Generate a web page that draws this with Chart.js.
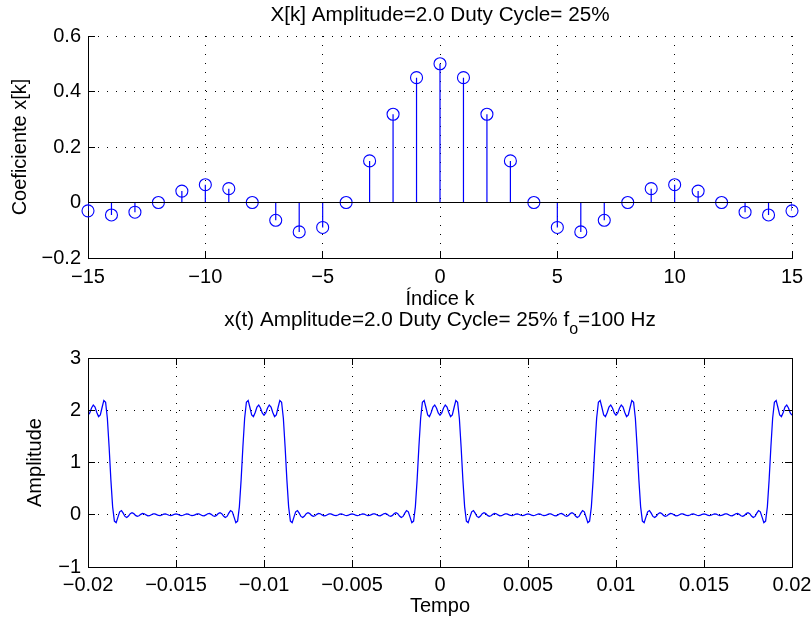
<!DOCTYPE html>
<html lang="pt">
<head>
<meta charset="UTF-8">
<title>Serie de Fourier - trem de pulsos</title>
<script src="https://cdn.jsdelivr.net/npm/chart.js"></script>
<style>
  body { margin: 0; background: #fff; }
  #wrap { position: relative; width: 811px; height: 626px; background: #fff; overflow: hidden; }
  #wrap canvas { position: absolute; left: 0; }
</style>
</head>
<body>
<div id="wrap">
  <canvas id="coef" width="811" height="313" style="top:0px"></canvas>
  <canvas id="sinal" width="811" height="326" style="top:300px"></canvas>
</div>
<script>
// coeficientes X[k]
const kValues = [-15,-14,-13,-12,-11,-10,-9,-8,-7,-6,-5,-4,-3,-2,-1,0,1,2,3,4,5,6,7,8,9,10,11,12,13,14,15];
const coefValues = [-0.030,-0.045,-0.035,0,0.041,0.064,0.050,0,-0.064,-0.106,-0.090,0,0.150,0.318,0.450,0.500,
                    0.450,0.318,0.150,0,-0.090,-0.106,-0.064,0,0.050,0.064,0.041,0,-0.035,-0.045,-0.030];
const coefXTicks = [-15,-10,-5,0,5,10,15];
const coefXLabels = ['\u221215','\u221210','\u22125','0','5','10','15'];
const coefYTicks = [-0.2,0,0.2,0.4,0.6];
const coefYLabels = ['\u22120.2','0','0.2','0.4','0.6'];

// x(t) amostrado de -0.02 s a 0.02 s, passo 0.1 ms
const tStart = -0.02;
const tStep = 0.0001;
const signalValues = [
  1.905,1.950,2.044,2.100,2.063,1.957,1.879,1.912,2.053,2.188,
  2.153,1.846,1.298,0.667,0.151,-0.121,-0.150,-0.046,0.057,0.080,
  0.031,-0.032,-0.053,-0.025,0.020,0.039,0.022,-0.012,-0.031,-0.020,
  0.007,0.025,0.019,-0.003,-0.021,-0.018,0.001,0.017,0.017,0.002,
  -0.014,-0.017,-0.004,0.012,0.016,0.005,-0.010,-0.016,-0.007,0.009,
  0.016,0.009,-0.007,-0.016,-0.010,0.005,0.016,0.012,-0.004,-0.017,
  -0.014,0.002,0.017,0.017,0.001,-0.018,-0.021,-0.003,0.019,0.025,
  0.007,-0.020,-0.031,-0.012,0.022,0.039,0.020,-0.025,-0.053,-0.032,
  0.031,0.080,0.057,-0.046,-0.150,-0.121,0.151,0.667,1.298,1.846,
  2.153,2.188,2.053,1.912,1.879,1.957,2.063,2.100,2.044,1.950,
  1.905,1.950,2.044,2.100,2.063,1.957,1.879,1.912,2.053,2.188,
  2.153,1.846,1.298,0.667,0.151,-0.121,-0.150,-0.046,0.057,0.080,
  0.031,-0.032,-0.053,-0.025,0.020,0.039,0.022,-0.012,-0.031,-0.020,
  0.007,0.025,0.019,-0.003,-0.021,-0.018,0.001,0.017,0.017,0.002,
  -0.014,-0.017,-0.004,0.012,0.016,0.005,-0.010,-0.016,-0.007,0.009,
  0.016,0.009,-0.007,-0.016,-0.010,0.005,0.016,0.012,-0.004,-0.017,
  -0.014,0.002,0.017,0.017,0.001,-0.018,-0.021,-0.003,0.019,0.025,
  0.007,-0.020,-0.031,-0.012,0.022,0.039,0.020,-0.025,-0.053,-0.032,
  0.031,0.080,0.057,-0.046,-0.150,-0.121,0.151,0.667,1.298,1.846,
  2.153,2.188,2.053,1.912,1.879,1.957,2.063,2.100,2.044,1.950,
  1.905,1.950,2.044,2.100,2.063,1.957,1.879,1.912,2.053,2.188,
  2.153,1.846,1.298,0.667,0.151,-0.121,-0.150,-0.046,0.057,0.080,
  0.031,-0.032,-0.053,-0.025,0.020,0.039,0.022,-0.012,-0.031,-0.020,
  0.007,0.025,0.019,-0.003,-0.021,-0.018,0.001,0.017,0.017,0.002,
  -0.014,-0.017,-0.004,0.012,0.016,0.005,-0.010,-0.016,-0.007,0.009,
  0.016,0.009,-0.007,-0.016,-0.010,0.005,0.016,0.012,-0.004,-0.017,
  -0.014,0.002,0.017,0.017,0.001,-0.018,-0.021,-0.003,0.019,0.025,
  0.007,-0.020,-0.031,-0.012,0.022,0.039,0.020,-0.025,-0.053,-0.032,
  0.031,0.080,0.057,-0.046,-0.150,-0.121,0.151,0.667,1.298,1.846,
  2.153,2.188,2.053,1.912,1.879,1.957,2.063,2.100,2.044,1.950,
  1.905,1.950,2.044,2.100,2.063,1.957,1.879,1.912,2.053,2.188,
  2.153,1.846,1.298,0.667,0.151,-0.121,-0.150,-0.046,0.057,0.080,
  0.031,-0.032,-0.053,-0.025,0.020,0.039,0.022,-0.012,-0.031,-0.020,
  0.007,0.025,0.019,-0.003,-0.021,-0.018,0.001,0.017,0.017,0.002,
  -0.014,-0.017,-0.004,0.012,0.016,0.005,-0.010,-0.016,-0.007,0.009,
  0.016,0.009,-0.007,-0.016,-0.010,0.005,0.016,0.012,-0.004,-0.017,
  -0.014,0.002,0.017,0.017,0.001,-0.018,-0.021,-0.003,0.019,0.025,
  0.007,-0.020,-0.031,-0.012,0.022,0.039,0.020,-0.025,-0.053,-0.032,
  0.031,0.080,0.057,-0.046,-0.150,-0.121,0.151,0.667,1.298,1.846,
  2.153,2.188,2.053,1.912,1.879,1.957,2.063,2.100,2.044,1.950,
  1.905
];
const timeXTicks = [-0.02,-0.015,-0.01,-0.005,0,0.005,0.01,0.015,0.02];
const timeXLabels = ['\u22120.02','\u22120.015','\u22120.01','\u22120.005','0','0.005','0.01','0.015','0.02'];
const timeYTicks = [-1,0,1,2,3];
const timeYLabels = ['\u22121','0','1','2','3'];

const FONT = '"Liberation Sans", Arial, Helvetica, sans-serif';
Chart.defaults.font.family = FONT;
Chart.defaults.font.size = 20;
Chart.defaults.color = '#000';
Chart.defaults.animation = false;

const BLUE = '#0000ff';
const TICK_LEN = 7;

function align(px) {
  return Math.round(px - 0.5) + 0.5;
}

// ticks para dentro do grafico (estilo matlab), e caixa fechada opcional
const innerTicks = {
  id: 'innerTicks',
  afterDraw(chart, args, opts) {
    const {ctx, chartArea: a, scales: {x, y}} = chart;
    ctx.save();
    ctx.strokeStyle = '#000';
    ctx.lineWidth = 1;
    ctx.beginPath();
    x.ticks.forEach(t => {
      const px = align(x.getPixelForValue(t.value));
      ctx.moveTo(px, a.bottom);
      ctx.lineTo(px, a.bottom - TICK_LEN);
      if (opts.box) {
        ctx.moveTo(px, a.top);
        ctx.lineTo(px, a.top + TICK_LEN);
      }
    });
    y.ticks.forEach(t => {
      const py = align(y.getPixelForValue(t.value));
      ctx.moveTo(a.left, py);
      ctx.lineTo(a.left + TICK_LEN, py);
      if (opts.box) {
        ctx.moveTo(a.right, py);
        ctx.lineTo(a.right - TICK_LEN, py);
      }
    });
    if (opts.box) {
      const l = align(a.left), r = align(a.right), t = align(a.top), b = align(a.bottom);
      ctx.rect(l, t, r - l, b - t);
    }
    ctx.stroke();
    ctx.restore();
  }
};

// titulo centrado sobre os eixos (como no matlab), com subscrito
const axesTitle = {
  id: 'axesTitle',
  afterDraw(chart, args, opts) {
    const {ctx, chartArea: a} = chart;
    const big = opts.size + 'px ' + FONT;
    const small = Math.round(opts.size * 0.75) + 'px ' + FONT;
    ctx.save();
    ctx.fillStyle = '#000';
    ctx.textBaseline = 'middle';
    ctx.textAlign = 'left';
    let total = 0;
    const widths = opts.parts.map(p => {
      ctx.font = p.sub ? small : big;
      const w = ctx.measureText(p.text).width;
      total += w;
      return w;
    });
    let x = (a.left + a.right) / 2 - total / 2;
    opts.parts.forEach((p, i) => {
      ctx.font = p.sub ? small : big;
      ctx.fillText(p.text, x, opts.y + (p.sub ? 9 : 0));
      x += widths[i];
    });
    ctx.restore();
  }
};

function makeScale(min, max, ticks, labels, title, titlePad, tickPad, fit) {
  return {
    type: 'linear',
    min: min,
    max: max,
    afterBuildTicks: s => { s.ticks = ticks.map(v => ({value: v})); },
    afterFit: fit,
    ticks: { autoSkip: false, maxRotation: 0, padding: tickPad, callback: (v, i) => labels[i] },
    grid: { color: '#000', lineWidth: 1, drawTicks: false },
    border: { display: true, color: '#000', width: 1, dash: [1, 8] },
    title: { display: true, text: title, padding: titlePad }
  };
}

// ---- grafico 1: coeficientes (stem) ----
const stemPoints = [];
kValues.forEach((k, i) => {
  stemPoints.push({x: k, y: 0}, {x: k, y: coefValues[i]}, {x: k, y: null});
});

new Chart(document.getElementById('coef'), {
  type: 'line',
  data: {
    datasets: [
      {
        label: 'base',
        data: [{x: kValues[0], y: 0}, {x: kValues[kValues.length - 1], y: 0}],
        borderColor: '#000', borderWidth: 1, pointRadius: 0
      },
      {
        label: 'hastes',
        data: stemPoints,
        borderColor: BLUE, borderWidth: 1.2, pointRadius: 0, spanGaps: false
      },
      {
        label: 'X[k]',
        data: kValues.map((k, i) => ({x: k, y: coefValues[i]})),
        showLine: false,
        pointRadius: 6,
        pointBorderColor: BLUE,
        pointBackgroundColor: 'rgba(0,0,0,0)',
        pointBorderWidth: 1.1,
        clip: false
      }
    ]
  },
  options: {
    responsive: false,
    devicePixelRatio: 1,
    layout: { padding: { left: 0, right: 19, top: 36, bottom: 0 } },
    plugins: {
      legend: { display: false },
      tooltip: { enabled: false },
      title: { display: false },
      axesTitle: { size: 20.7, y: 15, parts: [{text: 'X[k] Amplitude=2.0 Duty Cycle= 25%'}] },
      innerTicks: { box: false }
    },
    scales: {
      x: makeScale(-15, 15, coefXTicks, coefXLabels, '\u00cdndice k', {top: 0, bottom: 2}, 7,
        s => { s.height = 55; s.paddingLeft = 0; s.paddingRight = 0; }),
      y: makeScale(-0.2, 0.6, coefYTicks, coefYLabels, 'Coeficiente x[k]', {top: 8, bottom: 0}, 7,
        s => { s.width = 88; s.paddingTop = 0; s.paddingBottom = 0; })
    }
  },
  plugins: [innerTicks, axesTitle]
});

// ---- grafico 2: sinal reconstruido ----
new Chart(document.getElementById('sinal'), {
  type: 'line',
  data: {
    datasets: [{
      label: 'x(t)',
      data: signalValues.map((v, i) => ({x: +(tStart + i * tStep).toFixed(4), y: v})),
      borderColor: BLUE,
      borderWidth: 1.25,
      pointRadius: 0,
      tension: 0
    }]
  },
  options: {
    responsive: false,
    devicePixelRatio: 1,
    layout: { padding: { left: 0, right: 19, top: 58, bottom: 0 } },
    plugins: {
      legend: { display: false },
      tooltip: { enabled: false },
      title: { display: false },
      axesTitle: {
        size: 20.7, y: 20.5,
        parts: [{text: 'x(t) Amplitude=2.0 Duty Cycle= 25% f'}, {text: 'o', sub: true}, {text: '=100 Hz'}]
      },
      innerTicks: { box: true }
    },
    scales: {
      x: makeScale(-0.02, 0.02, timeXTicks, timeXLabels, 'Tempo', {top: 0, bottom: 8}, 6,
        s => { s.height = 59; s.paddingLeft = 0; s.paddingRight = 0; }),
      y: makeScale(-1, 3, timeYTicks, timeYLabels, 'Amplitude', {top: 23.5, bottom: 0}, 7,
        s => { s.width = 88; s.paddingTop = 0; s.paddingBottom = 0; })
    }
  },
  plugins: [innerTicks, axesTitle]
});
</script>
</body>
</html>
